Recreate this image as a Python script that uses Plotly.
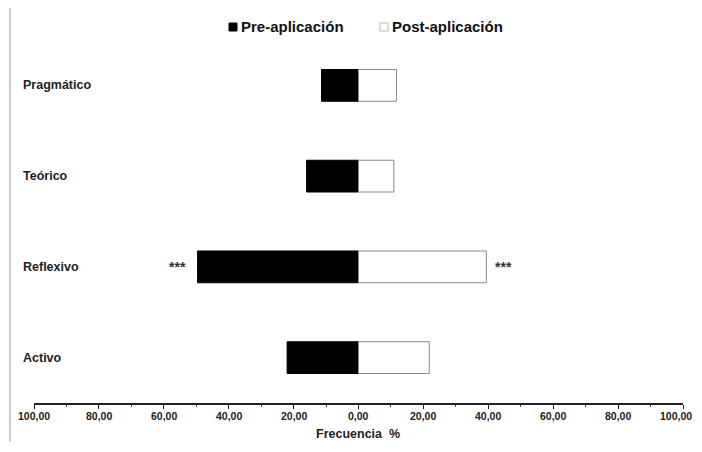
import plotly.graph_objects as go

categories = ["Activo", "Reflexivo", "Teórico", "Pragmático"]
pre_values = [22.0, 49.6, 16.0, 11.4]
post_values = [21.8, 39.4, 10.9, 11.7]
tick_values = [-100, -80, -60, -40, -20, 0, 20, 40, 60, 80, 100]
tick_labels = ["100,00", "80,00", "60,00", "40,00", "20,00", "0,00",
               "20,00", "40,00", "60,00", "80,00", "100,00"]
significance = ["", "***", "", ""]
series_names = ["Pre-aplicación", "Post-aplicación"]

FONT = "Arial, 'Liberation Sans', sans-serif"

# The page body has an 8px default margin, so the figure is offset by 8px;
# keep the figure inside the body's content box so nothing gets clipped.
OFF = 8
W, H = 686, 434
L, R, T, B = 26, 11, 32, 39
PW, PH = W - L - R, H - T - B


def px(xp):
    """page pixel x -> paper coordinate"""
    return (xp - OFF - L) / PW


def py(yp):
    """page pixel y -> paper coordinate"""
    return (H - B - (yp - OFF)) / PH


fig = go.Figure()
fig.add_trace(go.Bar(
    y=categories, x=[-v for v in pre_values], orientation="h",
    name=series_names[0], marker=dict(color="black", line=dict(color="black", width=1)),
    width=0.35, showlegend=False,
))
fig.add_trace(go.Bar(
    y=categories, x=post_values, orientation="h",
    name=series_names[1], marker=dict(color="white", line=dict(color="#8a8a8a", width=1)),
    width=0.35, showlegend=False,
))

annotations = []
for cat in categories:
    annotations.append(dict(
        x=px(21), xref="paper", y=cat, yref="y", text="<b>" + cat + "</b>",
        showarrow=False, xanchor="left", yanchor="middle",
        font=dict(family=FONT, size=12.5, color="#222"),
    ))
for cat, pre, post, sig in zip(categories, pre_values, post_values, significance):
    if sig:
        annotations.append(dict(x=-pre - 3, y=cat, xref="x", yref="y", text="<b>" + sig + "</b>",
                                showarrow=False, xanchor="right", yanchor="middle",
                                font=dict(family=FONT, size=14, color="#333")))
        annotations.append(dict(x=post + 2, y=cat, xref="x", yref="y", text="<b>" + sig + "</b>",
                                showarrow=False, xanchor="left", yanchor="middle",
                                font=dict(family=FONT, size=14, color="#333")))

# tick labels as text (last one right-aligned so it stays inside the page)
for i, (tv, tl) in enumerate(zip(tick_values, tick_labels)):
    if i == len(tick_values) - 1:
        annotations.append(dict(x=px(694), xref="paper", y=py(416), yref="paper",
                                text="<b>" + tl + "</b>", showarrow=False,
                                xanchor="right", yanchor="middle",
                                font=dict(family=FONT, size=10.5, color="#222")))
    else:
        annotations.append(dict(x=tv, xref="x", y=py(416), yref="paper",
                                text="<b>" + tl + "</b>", showarrow=False,
                                xanchor="center", yanchor="middle",
                                font=dict(family=FONT, size=10.5, color="#222")))

# legend drawn as squares + text
annotations.append(dict(x=px(239), y=py(27), xref="paper", yref="paper", text="<b>" + series_names[0] + "</b>",
                        showarrow=False, xanchor="left", yanchor="middle",
                        font=dict(family=FONT, size=15, color="#111")))
annotations.append(dict(x=px(390), y=py(27), xref="paper", yref="paper", text="<b>" + series_names[1] + "</b>",
                        showarrow=False, xanchor="left", yanchor="middle",
                        font=dict(family=FONT, size=15, color="#111")))
# axis title
annotations.append(dict(x=px(358), y=py(434), xref="paper", yref="paper",
                        text="<b>Frecuencia&nbsp;&nbsp;%</b>",
                        showarrow=False, xanchor="center", yanchor="middle",
                        font=dict(family=FONT, size=12.5, color="#222")))

shapes = [
    dict(type="line", xref="paper", yref="paper", x0=px(10), x1=px(10),
         y0=py(452), y1=py(0), line=dict(color="#bbb", width=1.5)),
    dict(type="rect", xref="paper", yref="paper", x0=px(229), x1=px(237), y0=py(31), y1=py(23),
         fillcolor="black", line=dict(color="black", width=1)),
    dict(type="rect", xref="paper", yref="paper", x0=px(380), x1=px(388), y0=py(31), y1=py(23),
         fillcolor="white", line=dict(color="#bbb", width=1)),
]

fig.update_layout(
    width=W, height=H,
    margin=dict(l=L, r=R, t=T, b=B),
    barmode="overlay",
    plot_bgcolor="white", paper_bgcolor="white",
    font=dict(family=FONT, color="#222"),
    showlegend=False,
    xaxis=dict(
        range=[-100, 100], tickvals=tick_values, showticklabels=False, automargin=False,
        showgrid=False, zeroline=False, showline=True, linecolor="#222", linewidth=1.5,
        ticks="outside", ticklen=4, tickcolor="#222",
        minor=dict(dtick=10, ticks="outside", ticklen=2, tickcolor="#444"),
    ),
    yaxis=dict(
        range=[-0.5, 3.5], showticklabels=False, showgrid=False, zeroline=False,
        showline=False, ticks="", automargin=False,
    ),
    annotations=annotations,
    shapes=shapes,
)

fig.write_html("out.html")
